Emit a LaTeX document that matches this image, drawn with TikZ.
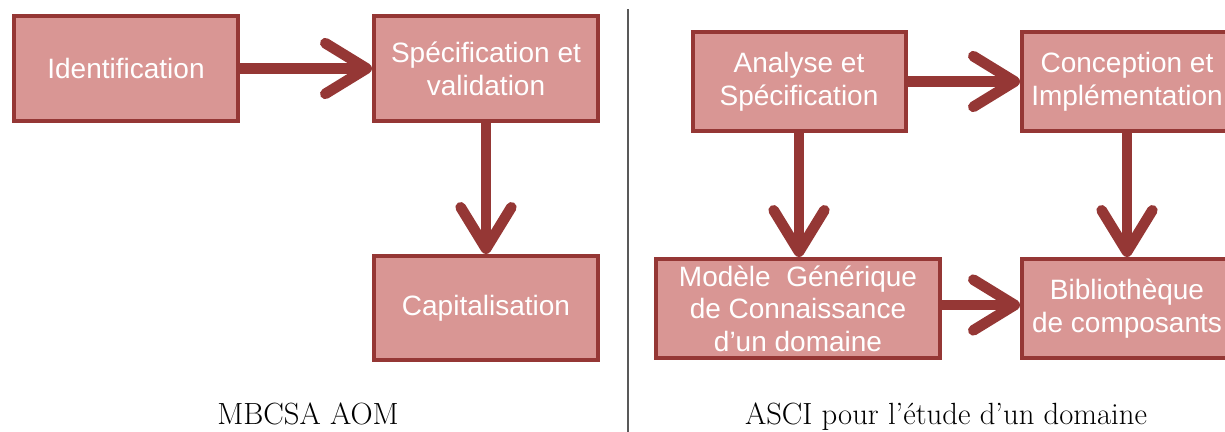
\documentclass[tikz,border=0pt]{standalone}
\usepackage{fontspec}
\newfontfamily\boxfont{Liberation Sans}
\usetikzlibrary{arrows.meta}

\definecolor{brickred}{HTML}{953735}
\definecolor{rosefill}{HTML}{D99694}
\definecolor{rulegray}{HTML}{595959}

\begin{document}
\begin{tikzpicture}[x=0.75pt,y=-0.75pt,
    stage/.style={draw=brickred,fill=rosefill,line width=3pt,text=white,
      font=\boxfont\fontsize{21}{24.5}\selectfont,align=center,inner sep=0pt},
    flow/.style={draw=brickred,line width=8pt,
      -{Straight Barb[length=31pt,width=38pt,round]}},
    caption/.style={anchor=base,font=\fontsize{23}{26}\selectfont}]
  \useasboundingbox (0,0) rectangle (1225,432);
  % MBCSA AOM
  \node[stage,minimum width=168pt,minimum height=78.75pt] (ident) at (126,68.5) {Identification};
  \node[stage,minimum width=168pt,minimum height=78.75pt] (spec) at (486,68.5) {Spécification et\\validation};
  \node[stage,minimum width=168pt,minimum height=78pt] (capi) at (486,308) {Capitalisation};
  \draw[flow] (ident) -- (spec);
  \draw[flow] (spec) -- (capi);
  \node[caption] (capleft) at (308,424) {MBCSA AOM};
  % separator
  \coordinate (septop) at (628,9);
  \coordinate (sepbot) at (628,432);
  \draw[rulegray,line width=0.8pt] (septop) -- (sepbot);
  % ASCI
  \node[stage,minimum width=159.75pt,minimum height=74.25pt] (analyse) at (799,81.5) {Analyse et\\Spécification};
  \node[stage,minimum width=157.5pt,minimum height=74.25pt] (concep) at (1127,81.5) {Conception et\\Implémentation};
  \node[stage,minimum width=213pt,minimum height=74.25pt] (modele) at (798,308.5) {Modèle~~Générique\\de Connaissance\\d’un domaine};
  \node[stage,minimum width=157.5pt,minimum height=74.25pt] (biblio) at (1127,308.5) {Bibliothèque\\de composants};
  \draw[flow] (analyse) -- (concep);
  \draw[flow] (analyse.south) -- (analyse.south |- modele.north);
  \draw[flow] (concep) -- (biblio);
  \draw[flow] (modele.east |- 0,305) -- (biblio.west |- 0,305);
  \node[caption] (capright) at (946,424) {ASCI pour l’étude d’un domaine};
\end{tikzpicture}
\end{document}
